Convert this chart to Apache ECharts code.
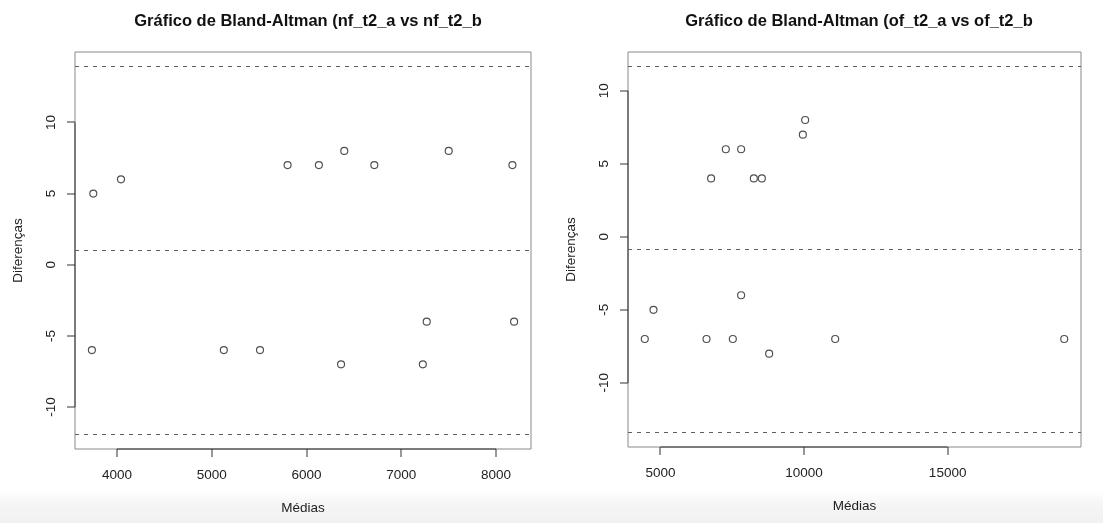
<!DOCTYPE html>
<html>
<head>
<meta charset="utf-8">
<script src="https://cdn.jsdelivr.net/npm/echarts@6/dist/echarts.min.js"></script>
<style>
  html, body { margin: 0; padding: 0; }
  body { width: 1103px; height: 523px; background: linear-gradient(to bottom, #ffffff 0px, #ffffff 490px, #f5f5f5 505px, #f1f1f1 523px); }
  #chart { width: 1103px; height: 523px; }
</style>
</head>
<body>
<div id="chart"></div>
<script>
// ---- Data ----
const leftTitle = 'Gráfico de Bland-Altman (nf_t2_a vs nf_t2_b';
const rightTitle = 'Gráfico de Bland-Altman (of_t2_a vs of_t2_b';
const xName = 'Médias';
const yName = 'Diferenças';

const leftMeans = [3750, 4042, 3735, 5127, 5509, 5800, 6130, 6398, 6364, 6715, 7227, 7268, 7500, 8172, 8190];
const leftDiffs = [5, 6, -6, -6, -6, 7, 7, 8, -7, 7, -7, -4, 8, 7, -4];

const rightMeans = [4453, 4756, 6603, 6763, 7275, 7519, 7808, 7808, 8251, 8530, 8784, 9958, 10038, 11084, 19060];
const rightDiffs = [-7, -5, -7, 4, 6, -7, 6, -4, 4, 4, -8, 7, 8, -7, -7];

const leftXTicks = [4000, 5000, 6000, 7000, 8000];
const leftYTicks = [-10, -5, 0, 5, 10];
const rightXTicks = [5000, 10000, 15000];
const rightYTicks = [-10, -5, 0, 5, 10];

// ---- Helpers ----
function stats(d) {
  const n = d.length;
  const m = d.reduce((a, b) => a + b, 0) / n;
  const sd = Math.sqrt(d.reduce((a, b) => a + (b - m) * (b - m), 0) / (n - 1));
  return { mean: m, upper: m + 1.96 * sd, lower: m - 1.96 * sd };
}
function pad(lo, hi) { const r = hi - lo; return [lo - 0.04 * r, hi + 0.04 * r]; }

const FONT = '"Liberation Sans", Arial, Helvetica, sans-serif';
const dark = '#222';
const TICK = 8;
const plain = v => String(v);

function panel(idx, title, cx, grid, means, diffs, xTicks, yTicks) {
  const st = stats(diffs);
  const [xMin, xMax] = pad(Math.min(...means), Math.max(...means));
  const [yMin, yMax] = pad(st.lower, st.upper);
  const pts = means.map((m, i) => [m, diffs[i]]);
  return {
    xMin, yMin, xTicks, yTicks, idx,
    title: {
      text: title, left: cx, top: 8, textAlign: 'center',
      textStyle: { fontFamily: FONT, fontSize: 16.5, fontWeight: 'bold', color: '#111' }
    },
    grid: Object.assign({ show: true, borderColor: '#8a8a8a', borderWidth: 1, backgroundColor: 'transparent' }, grid),
    xAxis: {
      type: 'value', gridIndex: idx, min: xMin, max: xMax,
      name: xName, nameLocation: 'middle', nameGap: 52,
      nameTextStyle: { fontFamily: FONT, fontSize: 13.5, color: dark },
      axisLine: { show: false, onZero: false },
      axisTick: { show: false },
      axisLabel: { customValues: xTicks, formatter: plain, margin: 19, fontFamily: FONT, fontSize: 13.5, color: dark },
      splitLine: { show: false }
    },
    yAxis: {
      type: 'value', gridIndex: idx, min: yMin, max: yMax,
      name: yName, nameLocation: 'middle', nameGap: 50,
      nameTextStyle: { fontFamily: FONT, fontSize: 13.5, color: dark },
      axisLine: { show: false, onZero: false },
      axisTick: { show: false },
      axisLabel: { customValues: yTicks, formatter: plain, rotate: 90, margin: 17, fontFamily: FONT, fontSize: 13.5, color: dark },
      splitLine: { show: false }
    },
    series: [
      {
        type: 'scatter', xAxisIndex: idx, yAxisIndex: idx, data: pts,
        symbol: 'circle', symbolSize: 7,
        itemStyle: { color: 'rgba(255,255,255,0)', borderColor: '#222', borderWidth: 1.15 },
        silent: true,
        markLine: {
          silent: true, symbol: 'none', label: { show: false },
          lineStyle: { color: '#5f5f5f', type: [4, 5], width: 1 },
          data: [{ yAxis: st.upper }, { yAxis: st.mean }, { yAxis: st.lower }]
        }
      },
      { // x axis line between first and last tick (R style)
        type: 'line', xAxisIndex: idx, yAxisIndex: idx, silent: true, clip: false,
        symbol: 'none', lineStyle: { color: '#333', width: 1 },
        data: [[xTicks[0], yMin], [xTicks[xTicks.length - 1], yMin]]
      },
      { // y axis line between first and last tick
        type: 'line', xAxisIndex: idx, yAxisIndex: idx, silent: true, clip: false,
        symbol: 'none', lineStyle: { color: '#333', width: 1 },
        data: [[xMin, yTicks[0]], [xMin, yTicks[yTicks.length - 1]]]
      }
    ]
  };
}

const L = panel(0, leftTitle, 303, { left: 75, top: 52, width: 456, height: 397 }, leftMeans, leftDiffs, leftXTicks, leftYTicks);
const R = panel(1, rightTitle, 854, { left: 628, top: 52, width: 453, height: 395 }, rightMeans, rightDiffs, rightXTicks, rightYTicks);

const option = {
  backgroundColor: 'transparent',
  animation: false,
  title: [L.title, R.title],
  grid: [L.grid, R.grid],
  xAxis: [L.xAxis, R.xAxis],
  yAxis: [L.yAxis, R.yAxis],
  series: [...L.series, ...R.series]
};

const chart = echarts.init(document.getElementById('chart'), null, { renderer: 'canvas' });
chart.setOption(option);

// Tick marks (outside, R style), positioned through the chart's own scales
const tickEls = [];
[L, R].forEach(P => {
  P.xTicks.forEach(v => {
    const p = chart.convertToPixel({ gridIndex: P.idx }, [v, P.yMin]);
    tickEls.push({ type: 'rect', silent: true, z: 10,
      shape: { x: Math.round(p[0]) - 0.5, y: p[1], width: 1, height: TICK },
      style: { fill: '#333' } });
  });
  P.yTicks.forEach(v => {
    const p = chart.convertToPixel({ gridIndex: P.idx }, [P.xMin, v]);
    tickEls.push({ type: 'rect', silent: true, z: 10,
      shape: { x: p[0] - TICK, y: Math.round(p[1]) - 0.5, width: TICK, height: 1 },
      style: { fill: '#333' } });
  });
});
chart.setOption({ graphic: { elements: tickEls } });
</script>
</body>
</html>
